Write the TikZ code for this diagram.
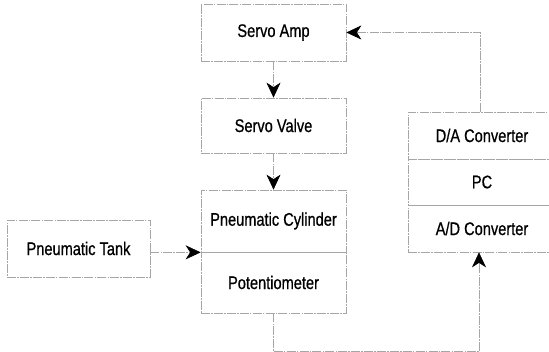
\documentclass[tikz,border=0pt]{standalone}
\usepackage{fontspec}
\setmainfont{Liberation Sans}
\newfontfamily\lab{Liberation Sans}[FakeBold=0.8]
\usepackage{graphicx}
\usetikzlibrary{arrows.meta}
\newcommand{\tx}[1]{\scalebox{1}[1.25]{#1}}
\tikzset{
  box/.style={draw=gray!70, line width=0.7pt, dash pattern=on 9pt off 1.2pt on 1.5pt off 1.2pt,
    rectangle, inner sep=0pt, font=\lab\fontsize{14.6}{17}\selectfont},
  conn/.style={draw=gray!70, line width=0.7pt, dash pattern=on 9pt off 1.2pt on 1.5pt off 1.2pt},
  arr/.style={conn, -{Stealth[length=15pt,width=14pt,inset=4.5pt,color=black,fill=black,line width=0.6pt]}}
}
\begin{document}
\begin{tikzpicture}[x=1pt,y=-1pt]
\useasboundingbox (0,0) rectangle (549,352);
\clip (0,0) rectangle (549,352);
\fill[white] (0,0) rectangle (549,352);
% left column
\node[box, minimum width=145pt, minimum height=57pt] (amp) at (273.5,32.5) {\tx{Servo Amp}};
\node[box, minimum width=145pt, minimum height=55pt] (valve) at (273.5,125.5) {\tx{Servo Valve}};
\node[box, minimum width=145pt, minimum height=62pt] (cyl) at (273.5,221) {\tx{Pneumatic Cylinder}};
\node[box, minimum width=145pt, minimum height=61pt] (pot) at (273.5,282.5) {\tx{Potentiometer}};
\node[box, minimum width=143pt, minimum height=57pt] (tank) at (78.5,248.5) {\tx{Pneumatic Tank}};
% right column
\node[box, minimum width=148pt, minimum height=47pt] (da) at (482,135.5) {\tx{D/A Converter}};
\node[box, minimum width=148pt, minimum height=46pt] (pc) at (482,182) {\tx{PC}};
\node[box, minimum width=148pt, minimum height=47pt] (ad) at (482,228.5) {\tx{A/D Converter}};
% connectors
\draw[arr] (amp.south) -- (valve.north);
\draw[arr] (valve.south) -- (cyl.north);
\draw[arr] (tank.east |- cyl.south west) -- (cyl.south west);
\draw[arr] (pot.south) -- ++(0,38.5) -| ([xshift=-3pt]ad.south);
\draw[arr] ([xshift=-2pt]da.north) |- (amp.east);
\end{tikzpicture}
\end{document}
